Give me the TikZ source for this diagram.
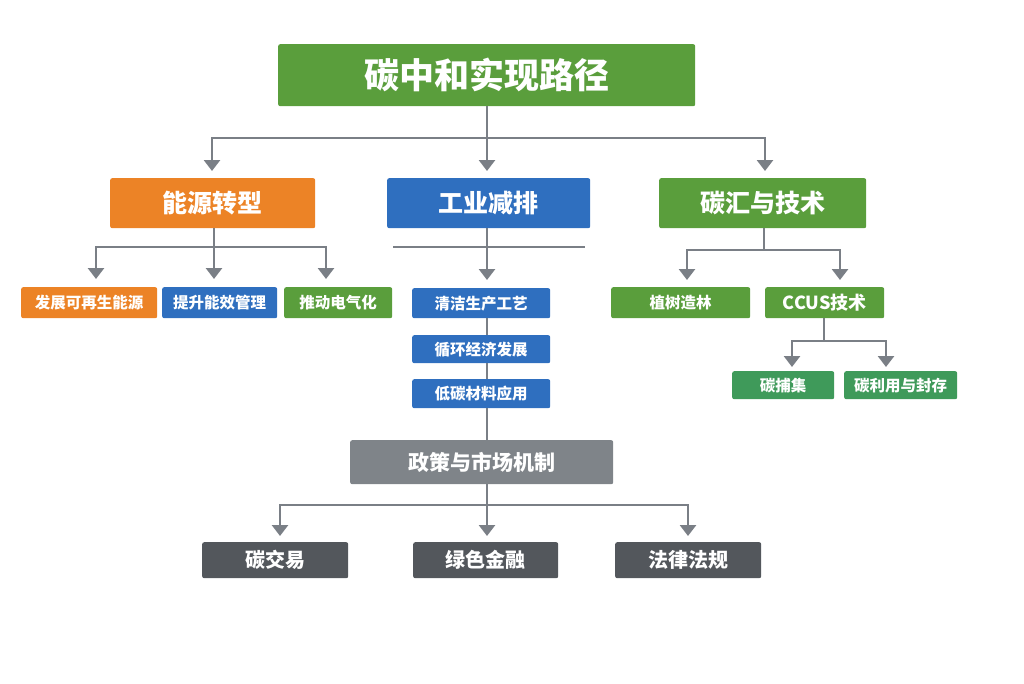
\documentclass[tikz,border=0pt]{standalone}
\usepackage{fontspec}
\setmainfont{Noto Sans CJK SC}
\usetikzlibrary{arrows.meta}
\definecolor{cgreen}{HTML}{5A9E3C}
\definecolor{corange}{HTML}{EC8326}
\definecolor{cblue}{HTML}{2F6FBF}
\definecolor{cgray}{HTML}{7F8489}
\definecolor{cdark}{HTML}{53575C}
\definecolor{cteal}{HTML}{3F9A5A}
\definecolor{cline}{HTML}{7A7F86}
\begin{document}
\begin{tikzpicture}[x=1pt,y=-1pt,
 box/.style={draw=none,rounded corners=2pt,text=white,font=\bfseries,inner sep=0pt,anchor=north west},
 ln/.style={draw=cline,line width=2.8pt},
 ar/.style={ln,-{Triangle[length=11pt,width=16pt]}}]
\useasboundingbox (0,0) rectangle (1024,683);
\node[box,fill=cgreen,minimum width=417,minimum height=62,font=\fontsize{35}{35}\selectfont\bfseries] (T) at (278,44) {碳中和实现路径};
\node[box,fill=corange,minimum width=205,minimum height=50,font=\fontsize{25}{25}\selectfont\bfseries] (A) at (110,178) {能源转型};
\node[box,fill=cblue,minimum width=203,minimum height=50,font=\fontsize{25}{25}\selectfont\bfseries] (B) at (387,178) {工业减排};
\node[box,fill=cgreen,minimum width=207,minimum height=50,font=\fontsize{25}{25}\selectfont\bfseries] (C) at (659,178) {碳汇与技术};
\coordinate (t0) at (487,106);
\coordinate (t1) at (487,138);
\draw[ln] (t0) -- (t1);
\draw[ln] (212,138) -- (765,138);
\draw[ar] (212,137) -- (212,171);
\draw[ar] (487,137) -- (487,171);
\draw[ar] (765,137) -- (765,171);
% left
\tikzset{s/.style={box,minimum height=31,font=\fontsize{15.5}{15.5}\selectfont\bfseries}}
\node[s,fill=corange,minimum width=136] (A1) at (21,287) {发展可再生能源};
\node[s,fill=cblue,minimum width=115] (A2) at (162,287) {提升能效管理};
\node[s,fill=cgreen,minimum width=108] (A3) at (284,287) {推动电气化};
\coordinate (a0) at (214,228);
\draw[ln] (a0) -- (214,247);
\draw[ln] (96,247) -- (326,247);
\draw[ar] (96,246) -- (96,279);
\draw[ar] (214,246) -- (214,279);
\draw[ar] (326,246) -- (326,279);
% middle
\node[s,fill=cblue,minimum width=138,minimum height=30] (B1) at (412,288) {清洁生产工艺};
\node[s,fill=cblue,minimum width=138,minimum height=28] (B2) at (412,335) {循环经济发展};
\node[s,fill=cblue,minimum width=138,minimum height=29] (B3) at (412,379) {低碳材料应用};
\draw[draw=cline,line width=1.5pt] (393,247) -- (585,247);
\coordinate (b0) at (487,228);
\draw[ar] (b0) -- (487,280);
\coordinate (b1) at (487,318);
\coordinate (b2) at (487,335);
\coordinate (b3) at (487,363);
\coordinate (b4) at (487,379);
\coordinate (b5) at (487,408);
\coordinate (b6) at (487,440);
\draw[ln] (b1) -- (b2);
\draw[ln] (b3) -- (b4);
\draw[ln] (b5) -- (b6);
\node[box,fill=cgray,minimum width=263,minimum height=44,font=\fontsize{21}{21}\selectfont\bfseries] (P) at (350,440) {政策与市场机制};
\coordinate (p0) at (487,484);
\draw[ln] (p0) -- (487,505);
\draw[ln] (280,505) -- (688,505);
\draw[ar] (280,504) -- (280,536);
\draw[ar] (487,504) -- (487,536);
\draw[ar] (688,504) -- (688,536);
\tikzset{d/.style={box,fill=cdark,minimum height=36,font=\fontsize{20}{20}\selectfont\bfseries}}
\node[d,minimum width=146] (P1) at (202,542) {碳交易};
\node[d,minimum width=145] (P2) at (413,542) {绿色金融};
\node[d,minimum width=146] (P3) at (615,542) {法律法规};
% right
\node[s,fill=cgreen,minimum width=139] (C1) at (611,287) {植树造林};
\node[s,fill=cgreen,minimum width=119,font=\fontsize{18}{18}\selectfont\bfseries] (C2) at (765,287) {CCUS技术};
\coordinate (c0) at (764,228);
\draw[ln] (c0) -- (764,250);
\draw[ln] (687,250) -- (840,250);
\draw[ar] (687,249) -- (687,280);
\draw[ar] (840,249) -- (840,280);
\coordinate (c1) at (824,318);
\draw[ln] (c1) -- (824,341);
\draw[ln] (792,341) -- (886,341);
\draw[ar] (792,340) -- (792,367);
\draw[ar] (886,340) -- (886,367);
\node[s,fill=cteal,minimum width=102,minimum height=28] (C3) at (732,371) {碳捕集};
\node[s,fill=cteal,minimum width=113,minimum height=28] (C4) at (844,371) {碳利用与封存};
\end{tikzpicture}
\end{document}
